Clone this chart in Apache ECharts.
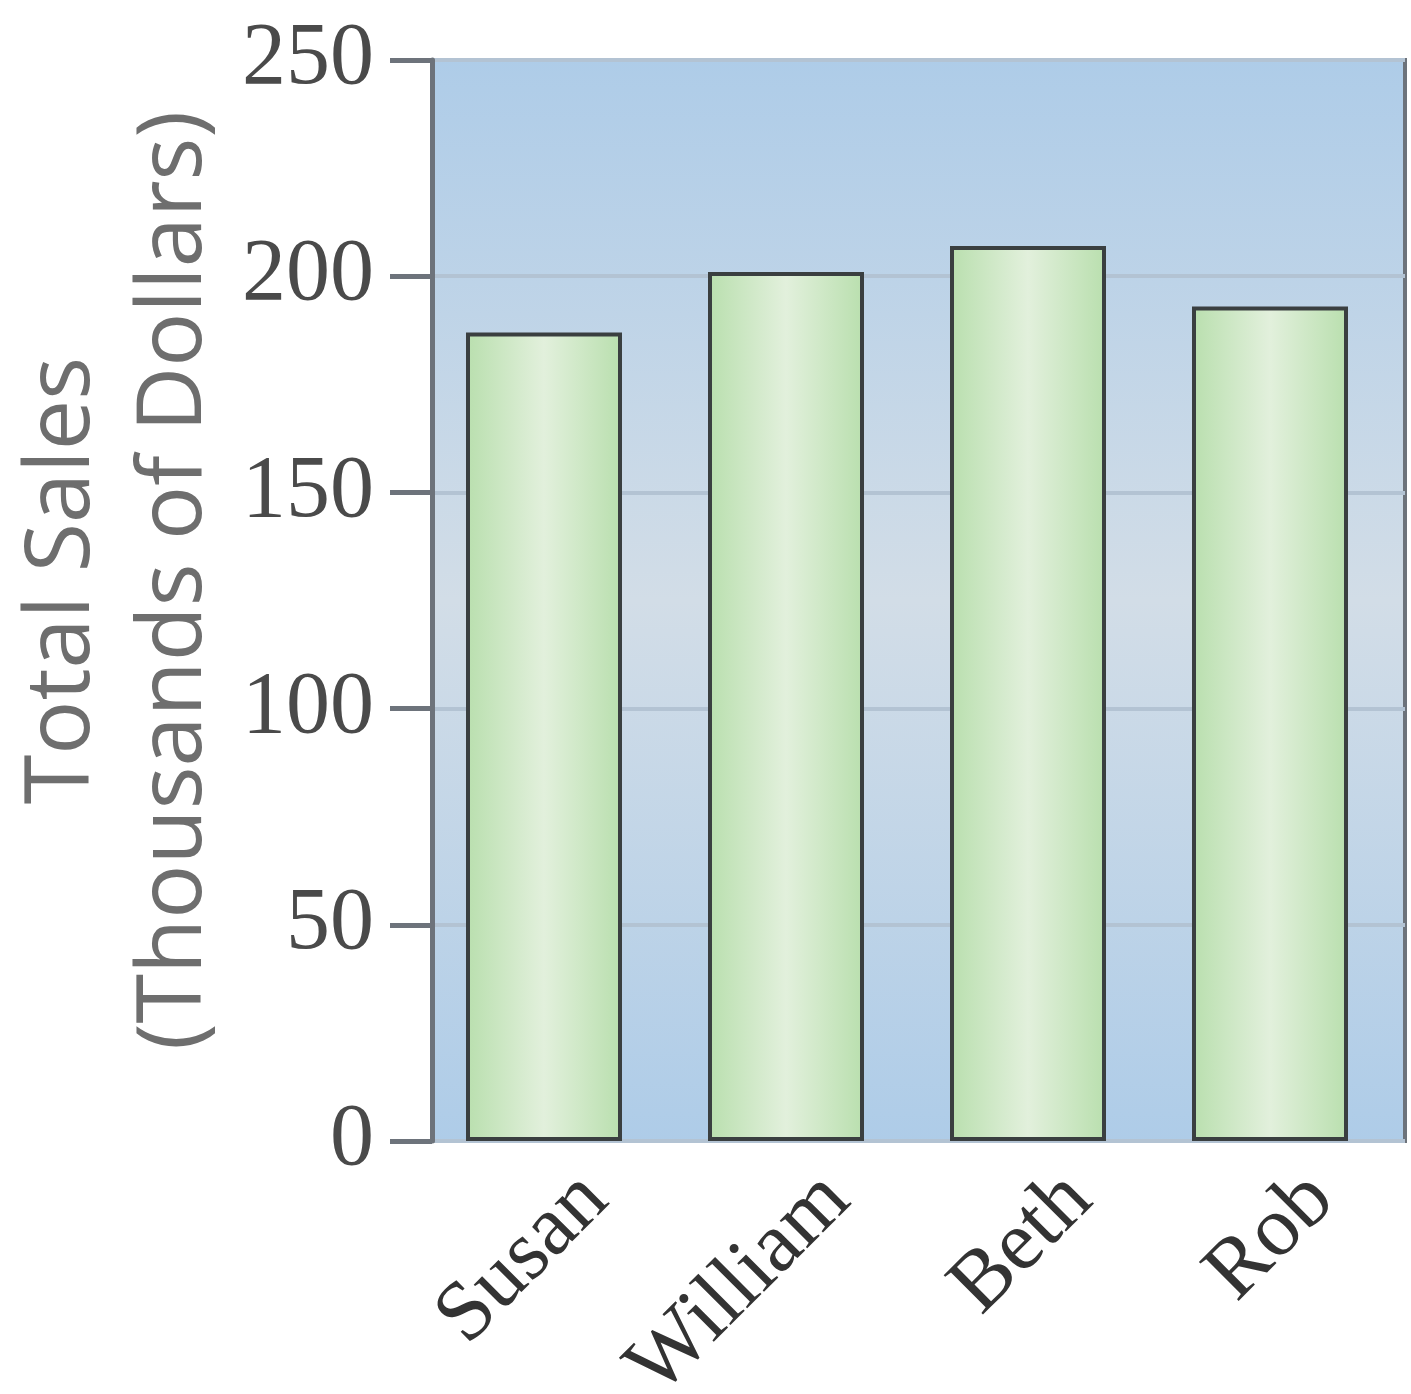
<!DOCTYPE html>
<html>
<head>
<meta charset="utf-8">
<script src="https://cdn.jsdelivr.net/npm/echarts@6/dist/echarts.min.js"></script>
<style>
html,body{margin:0;padding:0;background:#fff;}
#chart{width:1411px;height:1394px;}
</style>
</head>
<body>
<div id="chart"></div>
<script>
const categories = ['Susan', 'William', 'Beth', 'Rob'];
const salesValues = [187, 201, 207, 193];
const yTicks = [0, 50, 100, 150, 200, 250];
const yAxisTitle = 'Total Sales\n(Thousands of Dollars)';

const chart = echarts.init(document.getElementById('chart'), null, {renderer: 'canvas'});
const frameColor = '#6d737b';
const yMin = yTicks[0], yMax = yTicks[yTicks.length - 1], yStep = yTicks[1] - yTicks[0];

const option = {
  animation: false,
  grid: [
    {left: 432, top: 60, width: 973, height: 1081, show: true, outerBoundsMode: 'none', containLabel: false,
     backgroundColor: {type: 'linear', x: 0, y: 0, x2: 0, y2: 1, colorStops: [
       {offset: 0, color: '#aecce8'}, {offset: 0.5, color: '#d2dde7'}, {offset: 1, color: '#aecce8'}]},
     borderColor: frameColor, borderWidth: 4},
    {left: 423, top: 60, width: 968, height: 1081, outerBoundsMode: 'none', containLabel: false},
    {left: 474, top: 60, width: 968, height: 1081, outerBoundsMode: 'none', containLabel: false}
  ],
  xAxis: [
    {gridIndex: 0, type: 'category', data: categories, show: false},
    {gridIndex: 1, type: 'category', data: categories,
     axisLine: {show: false}, axisTick: {show: false}, axisLabel: {show: false}},
    {gridIndex: 2, type: 'category', data: categories,
     axisLine: {show: false}, axisTick: {show: false},
     axisLabel: {rotate: 45, margin: 46, fontFamily: 'Liberation Serif', fontSize: 85, color: '#333'}}
  ],
  yAxis: [
    {gridIndex: 0, type: 'value', min: yMin, max: yMax, interval: yStep,
     axisLine: {show: true, lineStyle: {color: frameColor, width: 5}},
     axisTick: {show: true, inside: false, length: 42, lineStyle: {color: frameColor, width: 5}},
     splitLine: {show: true, lineStyle: {color: '#b3c3d3', width: 4}},
     axisLabel: {margin: 58, fontFamily: 'Liberation Serif', fontSize: 88, color: '#4a4a4a'},
     name: yAxisTitle, nameLocation: 'middle', nameGap: 194,
     nameTextStyle: {fontFamily: 'Open Sans', fontSize: 90, lineHeight: 112, color: '#6e6e6e', padding: [0, 0, 0, 40]}},
    {gridIndex: 1, type: 'value', min: yMin, max: yMax, interval: yStep, show: false},
    {gridIndex: 2, type: 'value', min: yMin, max: yMax, interval: yStep, show: false}
  ],
  series: [{
    type: 'bar', xAxisIndex: 1, yAxisIndex: 1, data: salesValues, barWidth: 156,
    itemStyle: {
      color: {type: 'linear', x: 0, y: 0, x2: 1, y2: 0, colorStops: [
        {offset: 0, color: '#b9dfae'}, {offset: 0.5, color: '#e2f0dc'}, {offset: 1, color: '#b9dfae'}]},
      borderColor: '#3a3f40', borderWidth: 4
    }
  }]
};
chart.setOption(option);
</script>
</body>
</html>
